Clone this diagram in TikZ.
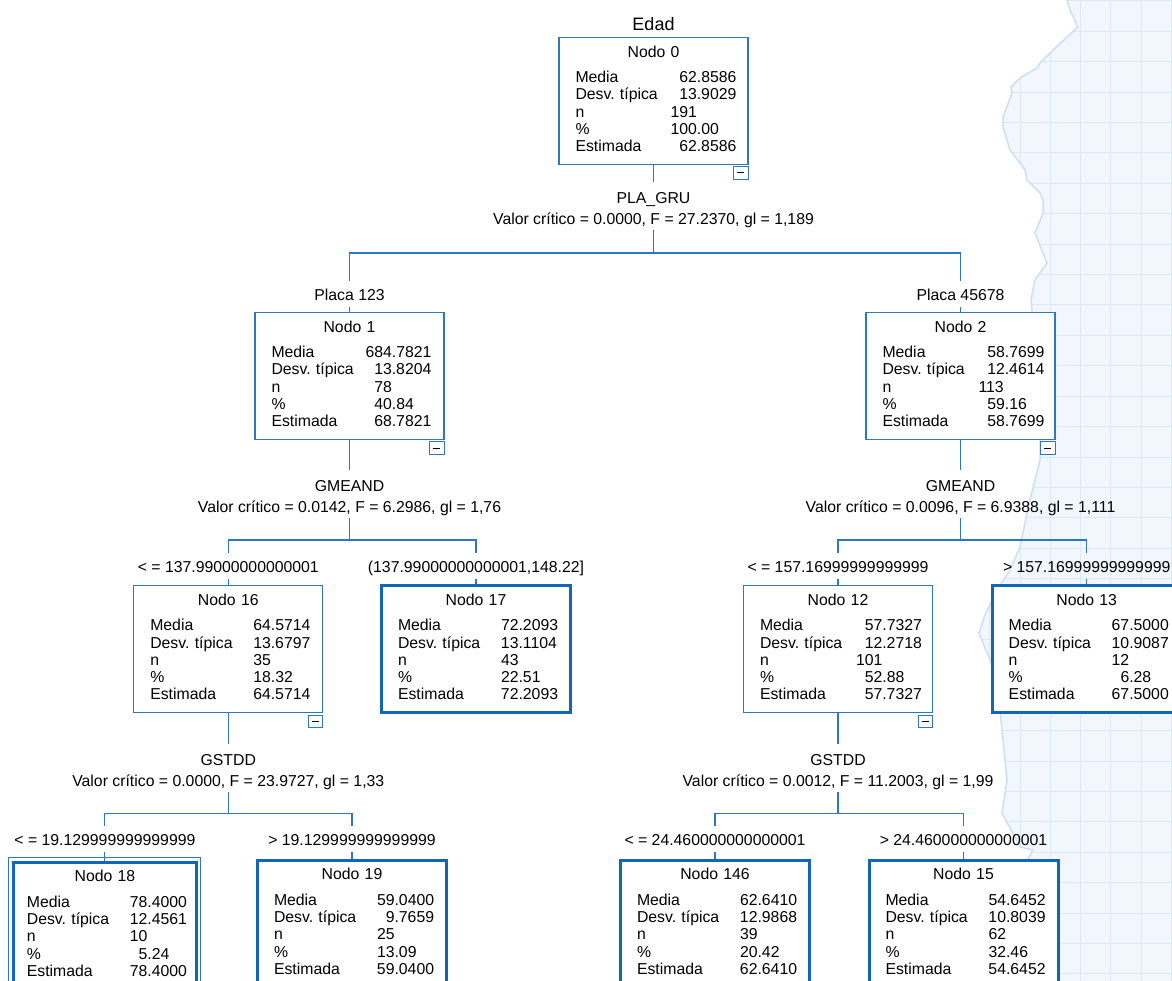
\documentclass[tikz,border=0pt]{standalone}
\usepackage{fontspec}
\setmainfont{Liberation Sans}
\definecolor{spssblue}{RGB}{44,118,196}
\definecolor{leafblue}{RGB}{16,102,186}
\definecolor{paper}{RGB}{241,247,253}
\definecolor{gridblue}{RGB}{218,232,247}
\definecolor{tornblue}{RGB}{205,223,242}
\newcommand{\z}{\phantom{0}}
\newcommand{\nodo}[7][103pt]{\makebox[\hsize][c]{Nodo #2}\\[8pt]
	\makebox[#1][l]{Media}#3\\
	\makebox[#1][l]{Desv.\ típica}#4\\
	\makebox[#1][l]{n}#5\\
	\makebox[#1][l]{\%}#6\\
	\makebox[#1][l]{Estimada}#7\rule[-4pt]{0pt}{4pt}}

\begin{document}
\begin{tikzpicture}[x=1pt, y=-1pt,
			every node/.style = {font=\fontsize{15.8}{17.3}\selectfont},
			box/.style = {shape=rectangle, draw=spssblue, line width=1.2pt, fill=white,
				text width=156pt, inner xsep=16.5pt, minimum height=127pt, align=left},
			leaf/.style = {box, draw=leafblue, line width=3pt},
			split/.style = {align=center, inner sep=2pt, anchor=north,
				font=\fontsize{15.8}{21}\selectfont},
			cond/.style = {inner sep=2.5pt, text height=16.5pt, text depth=3.5pt, anchor=base},
			minus/.style = {draw=spssblue, line width=1pt, fill=white, inner sep=0pt,
				minimum width=14.4pt, minimum height=12.3pt, anchor=north east},
			edge/.style = {draw=spssblue, line width=1.1pt},
			gridline/.style = {draw=gridblue, line width=1pt}]
	\useasboundingbox (0,0) rectangle (1172,981);
	\clip (0,0) rectangle (1172,981);

	% squared paper behind the right side
	\fill[paper] (900,0) rectangle (1172,981);
	\foreach \k in {0,...,7} \draw[gridline] ({959.4+30.3*\k},0) -- ++(0,981);
	\foreach \k in {0,...,32} \draw[gridline] (900,{1+30.4*\k}) -- ++(272,0);
	\filldraw[fill=white, draw=tornblue, line width=1.5pt] (-5,-5) -- (1067,-5) -- (1067,0)
		-- (1070,10) -- (1078,27) -- (1067,37) -- (1050,53) -- (1040,63) -- (1037,68)
		-- (1020,78) -- (1011,87) -- (1012,93) -- (1003,117) -- (1003,127) -- (1010,150)
		-- (1020,163) -- (1025,170) -- (1027,180) -- (1040,193) -- (1043,200) -- (1043,213)
		-- (1035,233) -- (1047,263) -- (1035,280) -- (1031,300) -- (1034,330) -- (1040,380)
		-- (1040,460) -- (1030,500) -- (1027,513) -- (1020,547) -- (1010,570) -- (997,590)
		-- (985,615) -- (979,633) -- (990,660) -- (998,680) -- (1001,720) -- (1007,780)
		-- (1002,813) -- (1020,847) -- (1033,850) -- (1020,873) -- (1017,900) -- (1017,986)
		-- (-5,986) -- cycle;

	\node[anchor=base, font=\fontsize{18}{20}\selectfont] (edad) at (653.5,30.7) {Edad};
	\node[box] (n0) at (653.5,100.7) {\nodo[95pt]{0}{\z62.8586}{\z13.9029}{191}{100.00}{\z62.8586}};
	\node[minus] (m0) at ([yshift=-1.5pt]n0.south east) {\rule{7pt}{1.1pt}};
	\node[split] (s0) at (653.5,181.6) {PLA\_GRU\rule{0pt}{20pt}\\Valor crítico = 0.0000, F = 27.2370, gl = 1,189};
	\coordinate (b0) at (653.5,253);

	\node[cond] (c1) at (349.5,300.6) {Placa 123};
	\node[cond] (c2) at (960.5,300.6) {Placa 45678};
	\node[box] (n1) at (349.5,375.8) {\nodo[94pt]{1}{684.7821}{\z13.8204}{\z78}{\z40.84}{\z68.7821}};
	\node[box] (n2) at (960.5,375.8) {\nodo[96pt]{2}{\z58.7699}{\z12.4614}{113}{\z59.16}{\z58.7699}};
	\node[minus] (m1) at ([yshift=-1.5pt]n1.south east) {\rule{7pt}{1.1pt}};
	\node[minus] (m2) at ([yshift=-1.5pt]n2.south east) {\rule{7pt}{1.1pt}};
	\node[split] (s1) at (349.5,469.6) {GMEAND\rule{0pt}{20pt}\\Valor crítico = 0.0142, F = 6.2986, gl = 1,76};
	\node[split] (s2) at (960.5,469.6) {GMEAND\rule{0pt}{20pt}\\Valor crítico = 0.0096, F = 6.9388, gl = 1,111};
	\coordinate (b1) at (349.5,540);
	\coordinate (b2) at (960.5,540);

	\node[cond] (c16) at (228.3,572.3) {< = 137.99000000000001};
	\node[cond] (c17) at (476,572.3) {(137.99000000000001,148.22]};
	\node[cond] (c12) at (838,572.3) {< = 157.16999999999999};
	\node[cond] (c13) at (1086.7,572.3) {> 157.16999999999999};
	\node[box] (n16) at (228.3,649) {\nodo{16}{64.5714}{13.6797}{35}{18.32}{64.5714}};
	\node[leaf] (n17) at (476,649) {\nodo{17}{72.2093}{13.1104}{43}{22.51}{72.2093}};
	\node[box] (n12) at (838,649) {\nodo[96pt]{12}{\z57.7327}{\z12.2718}{101}{\z52.88}{\z57.7327}};
	\node[leaf] (n13) at (1086.7,649) {\nodo{13}{67.5000}{10.9087}{12}{\z6.28}{67.5000}};
	\node[minus] (m16) at ([yshift=-1.5pt]n16.south east) {\rule{7pt}{1.1pt}};
	\node[minus] (m12) at ([yshift=-1.5pt]n12.south east) {\rule{7pt}{1.1pt}};
	\node[split] (s16) at (228.3,743.6) {GSTDD\rule{0pt}{20pt}\\Valor crítico = 0.0000, F = 23.9727, gl = 1,33};
	\node[split] (s12) at (838,743.6) {GSTDD\rule{0pt}{20pt}\\Valor crítico = 0.0012, F = 11.2003, gl = 1,99};
	\coordinate (b16) at (228.3,813.3);
	\coordinate (b12) at (838,813.3);

	\node[cond] (c18) at (104.9,845.5) {< = 19.129999999999999};
	\node[cond] (c19) at (352,845.5) {> 19.129999999999999};
	\node[cond] (c146) at (715,845.5) {< = 24.460000000000001};
	\node[cond] (c15) at (963.5,845.5) {> 24.460000000000001};
	\node[leaf, inner xsep=13.5pt] (n18) at (104.9,925.5) {\nodo{18}{78.4000}{12.4561}{10}{\z5.24}{78.4000}};
	\draw[spssblue, line width=0.9pt] ([xshift=-3pt,yshift=3pt]n18.north west) rectangle ([xshift=3pt,yshift=-3pt]n18.south east);
	\node[leaf] (n19) at (352,923.5) {\nodo{19}{59.0400}{\z9.7659}{25}{13.09}{59.0400}};
	\node[leaf] (n146) at (715,923.5) {\nodo{146}{62.6410}{12.9868}{39}{20.42}{62.6410}};
	\node[leaf] (n15) at (963.5,923.5) {\nodo{15}{54.6452}{10.8039}{62}{32.46}{54.6452}};

	\draw[edge] (n0.south) -- (s0.north) (s0.south) -- (b0) (b0) -| (c1.north) (b0) -| (c2.north)
		(c1.south) -- (n1.north) (c2.south) -- (n2.north);
	\draw[edge] (n1.south) -- (s1.north) (s1.south) -- (b1) (b1) -| (c16.north) (b1) -| (c17.north)
		(c16.south) -- (n16.north) (c17.south) -- (n17.north);
	\draw[edge] (n2.south) -- (s2.north) (s2.south) -- (b2) (b2) -| (c12.north) (b2) -| (c13.north)
		(c12.south) -- (n12.north) (c13.south) -- (n13.north);
	\draw[edge] (n16.south) -- (s16.north) (s16.south) -- (b16) (b16) -| (c18.north) (b16) -| (c19.north)
		(c18.south) -- (n18.north) (c19.south) -- (n19.north);
	\draw[edge] (n12.south) -- (s12.north) (s12.south) -- (b12) (b12) -| (c146.north) (b12) -| (c15.north)
		(c146.south) -- (n146.north) (c15.south) -- (n15.north);
\end{tikzpicture}
\end{document}
